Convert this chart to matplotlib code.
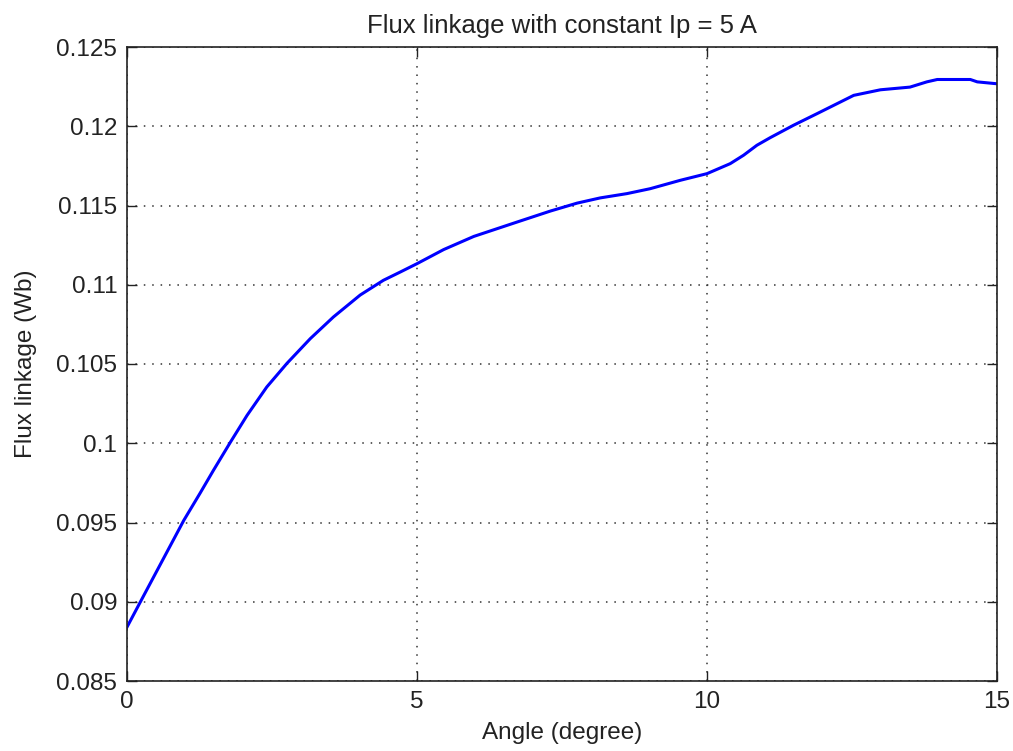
import numpy as np
import matplotlib
matplotlib.use("Agg")
import matplotlib.pyplot as plt

# values
angle = [0.0, 0.29, 0.98, 1.26, 1.49, 1.78, 2.07, 2.41, 2.76, 3.16, 3.56,
         4.02, 4.42, 4.71, 5.0, 5.46, 5.98, 6.72, 7.30, 7.76, 8.16, 8.62,
         9.02, 9.54, 10.0, 10.40, 10.63, 10.86, 11.09, 11.49, 11.90, 12.30,
         12.53, 12.99, 13.5, 13.79, 13.97, 14.54, 14.66, 15.0]
flux = [0.0884, 0.0904, 0.09514, 0.09685, 0.09829, 0.10005, 0.10176, 0.10355,
        0.10505, 0.1066, 0.10797, 0.10935, 0.11028, 0.1108, 0.11133, 0.11222,
        0.11305, 0.11395, 0.11465, 0.11515, 0.11548, 0.11575, 0.11606, 0.11659,
        0.11701, 0.11764, 0.11817, 0.1188, 0.11928, 0.12006, 0.1208, 0.12153,
        0.12195, 0.1223, 0.12247, 0.1228, 0.12295, 0.12295, 0.1228, 0.12268]

xticks = [0, 5, 10, 15]
yticks = [0.085, 0.09, 0.095, 0.1, 0.105, 0.11, 0.115, 0.12, 0.125]
ytick_labels = ["0.085", "0.09", "0.095", "0.1", "0.105", "0.11", "0.115", "0.12", "0.125"]

plt.rcParams['font.family'] = ['Liberation Sans', 'DejaVu Sans']

fig = plt.figure(figsize=(10.13, 7.51), dpi=100)
ax = fig.add_axes([127/1013, 1-681/751, 870/1013, 634/751])

ax.plot(angle, flux, color='#0000ff', linewidth=2.2)

ax.set_xlim(0, 15)
ax.set_ylim(0.085, 0.125)
ax.set_xticks(xticks)
ax.set_xticklabels([str(t) for t in xticks])
ax.set_yticks(yticks)
ax.set_yticklabels(ytick_labels)
ax.tick_params(direction='in', top=True, right=True, length=7, width=1,
               labelsize=17.5, pad=7, colors='#222222')
ax.grid(True, color='#333333', linestyle=(0, (1, 4.5)), linewidth=1.1)
for s in ax.spines.values():
    s.set_linewidth(1.2)
    s.set_color('#222222')

ax.set_title("Flux linkage with constant Ip = 5 A", fontsize=18.5, pad=10,
             color='#222222')
ax.set_xlabel("Angle (degree)", fontsize=17.5, labelpad=7, color='#222222')
ax.set_ylabel("Flux linkage (Wb)", fontsize=17.5, labelpad=14, color='#222222')

fig.savefig("out.png", dpi=100)
